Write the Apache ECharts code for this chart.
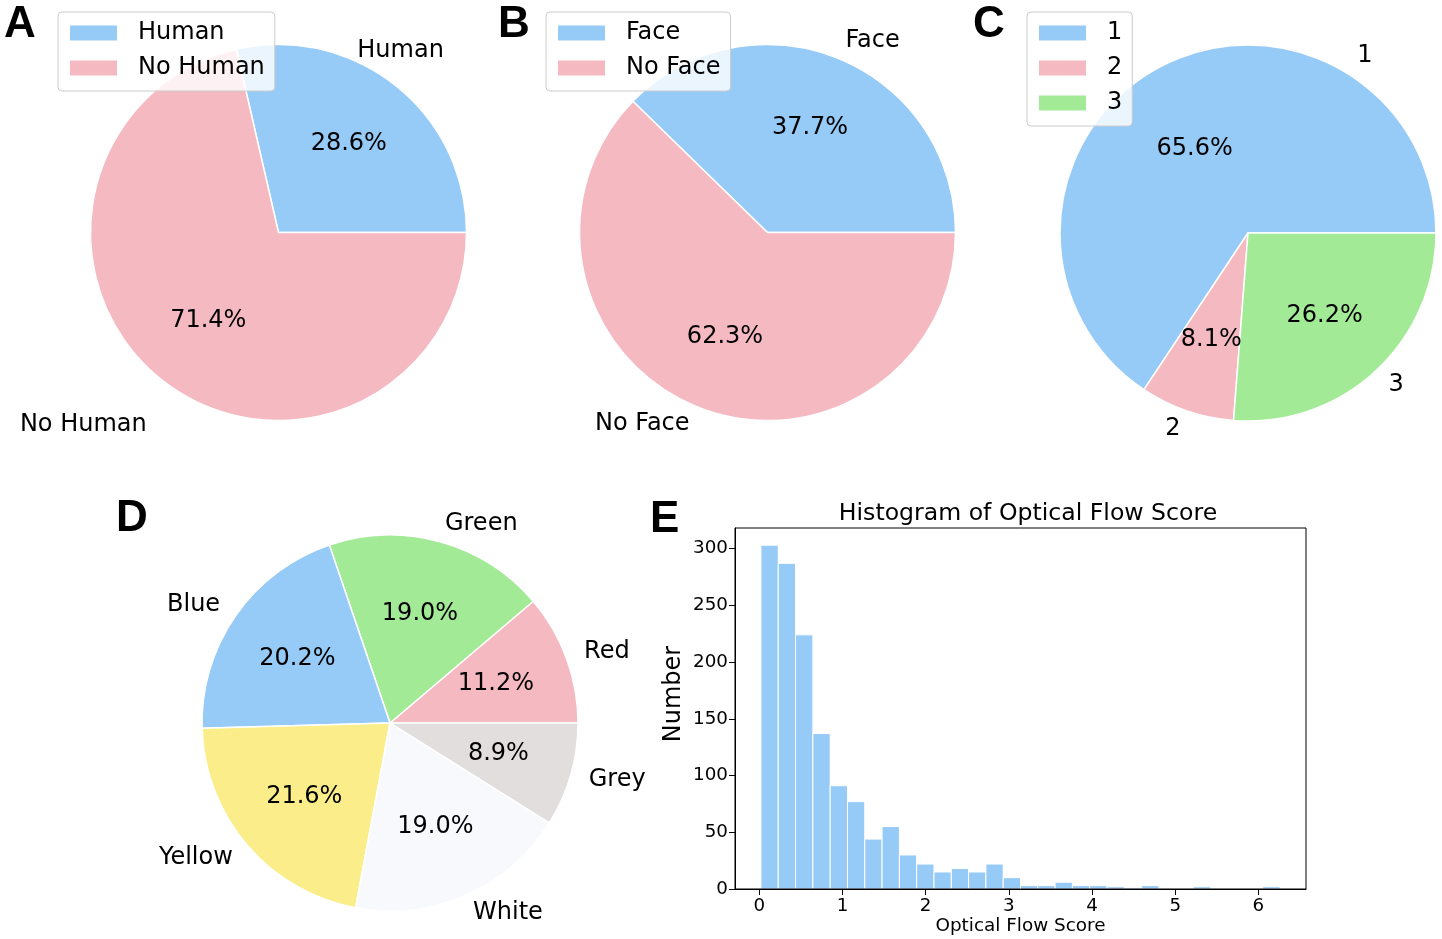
<!DOCTYPE html>
<html>
<head>
<meta charset="utf-8">
<script src="https://cdn.jsdelivr.net/npm/echarts@6/dist/echarts.min.js"></script>
<style>
  html, body { margin: 0; padding: 0; background: #ffffff; }
  #chart { width: 1442px; height: 939px; }
</style>
</head>
<body>
<div id="chart"></div>
<script>
// ---------------- data ----------------
const pieALabels = ['Human', 'No Human'];
const pieAValues = [28.6, 71.4];

const pieBLabels = ['Face', 'No Face'];
const pieBValues = [37.7, 62.3];

const pieCLabels = ['1', '2', '3'];
const pieCValues = [65.6, 8.1, 26.2];

const pieDLabels = ['Red', 'Green', 'Blue', 'Yellow', 'White', 'Grey'];
const pieDValues = [11.2, 19.0, 20.2, 21.6, 19.0, 8.9];

// histogram: 30 equal bins between histMin and histMax
const histMin = 0.02;
const histMax = 6.26;
const histCounts = [303, 287, 224, 137, 91, 77, 44, 55, 30, 22,
                    15, 18, 15, 22, 10, 3, 3, 6, 3, 3,
                    2, 1, 3, 0, 0, 2, 0, 0, 0, 2];
const histXTicks = [0, 1, 2, 3, 4, 5, 6];
const histYTicks = [0, 50, 100, 150, 200, 250, 300];

const panelLetters = ['A', 'B', 'C', 'D', 'E'];
const histTitle = 'Histogram of Optical Flow Score';
const histXName = 'Optical Flow Score';
const histYName = 'Number';

// ---------------- styles ----------------
const C_BLUE = '#96CAF7';
const C_PINK = '#F5B9C2';
const C_GREEN = '#A3EA96';
const C_YELLOW = '#FBEE8A';
const C_WHITE = '#F8F9FD';
const C_GREY = '#E1DEDD';
const colorsA = [C_BLUE, C_PINK];
const colorsB = [C_BLUE, C_PINK];
const colorsC = [C_BLUE, C_PINK, C_GREEN];
const colorsD = [C_PINK, C_GREEN, C_BLUE, C_YELLOW, C_WHITE, C_GREY];

const FONT = 'DejaVu Sans';
const PIE_FS = 24;
const R = 188;

function pieData(labels, values, colors) {
  return labels.map((n, i) => ({ name: n, value: values[i], itemStyle: { color: colors[i] } }));
}
function pctData(labels, values) {
  return labels.map((n, i) => ({ name: 'pct-' + n, value: values[i] }));
}

function mainPie(center, labels, values, colors, layoutFn) {
  return {
    type: 'pie',
    center: center,
    radius: [0, R],
    startAngle: 0,
    clockwise: false,
    avoidLabelOverlap: false,
    silent: true,
    z: 2,
    data: pieData(labels, values, colors),
    itemStyle: { borderColor: '#ffffff', borderWidth: 1.5 },
    label: {
      show: true,
      position: 'outside',
      distanceToLabelLine: 0,
      fontFamily: FONT,
      fontSize: PIE_FS,
      color: '#000000',
      padding: [3, 0, 0, 0],
      formatter: '{b}'
    },
    labelLine: { show: false, length: R * 0.1, length2: 0 },
    labelLayout: layoutFn,
    emphasis: { disabled: true }
  };
}
function pctPie(center, labels, values, layoutFn) {
  // transparent overlay whose mid radius equals 0.6 * R (label at (r/2)+3)
  return {
    type: 'pie',
    center: center,
    radius: [0, 2 * (0.6 * R - 3)],
    startAngle: 0,
    clockwise: false,
    avoidLabelOverlap: false,
    silent: true,
    z: 3,
    data: pctData(labels, values),
    itemStyle: { color: 'rgba(0,0,0,0)', borderWidth: 0 },
    label: {
      show: true,
      position: 'inside',
      fontFamily: FONT,
      fontSize: PIE_FS,
      color: '#000000',
      padding: [3, 0, 0, 0],
      formatter: (p) => p.value.toFixed(1) + '%'
    },
    labelLine: { show: false },
    labelLayout: layoutFn,
    emphasis: { disabled: true }
  };
}

function legend(left, names) {
  return {
    show: true,
    left: left,
    top: 12,
    orient: 'vertical',
    data: names,
    icon: 'rect',
    itemWidth: 49,
    itemHeight: 17,
    itemGap: 11,
    padding: [9, 10, 11, 10],
    backgroundColor: 'rgba(255,255,255,0.8)',
    borderColor: '#cccccc',
    borderWidth: 1,
    borderRadius: 4,
    selectedMode: false,
    z: 10,
    textStyle: { fontFamily: FONT, fontSize: PIE_FS, color: '#000000', padding: [2, 0, 0, 15] }
  };
}

// histogram bin edges
const nBins = histCounts.length;
const binW = (histMax - histMin) / nBins;
const histData = histCounts.map((c, i) => [histMin + i * binW, histMin + (i + 1) * binW, c]);

const chart = echarts.init(document.getElementById('chart'), null, { renderer: 'canvas' });

const letterStyle = { font: 'bold 44px "Liberation Sans"', fill: '#000000', textAlign: 'left', textVerticalAlign: 'middle' };

const option = {
  backgroundColor: '#ffffff',
  animation: false,
  legend: [
    legend(58, pieALabels),
    legend(546, pieBLabels),
    legend(1027, pieCLabels)
  ],
  graphic: [
    { type: 'text', x: 4, y: 25, style: Object.assign({ text: panelLetters[0] }, letterStyle) },
    { type: 'text', x: 498, y: 25, style: Object.assign({ text: panelLetters[1] }, letterStyle) },
    { type: 'text', x: 973, y: 25, style: Object.assign({ text: panelLetters[2] }, letterStyle) },
    { type: 'text', x: 116, y: 519, style: Object.assign({ text: panelLetters[3] }, letterStyle) },
    { type: 'text', x: 650, y: 520, style: Object.assign({ text: panelLetters[4] }, letterStyle) },
    { type: 'text', x: 1028, y: 514, style: { text: histTitle, font: '23.6px "DejaVu Sans"', fill: '#000000', textAlign: 'center', textVerticalAlign: 'middle' } }
  ],
  grid: {
    left: 735, top: 528, width: 571, height: 361,
    show: true, borderColor: '#000000', borderWidth: 1, backgroundColor: 'rgba(0,0,0,0)', z: 5
  },
  xAxis: {
    type: 'value',
    min: -0.292,
    max: 6.572,
    z: 6,
    name: histXName,
    nameLocation: 'middle',
    nameGap: 28,
    nameTextStyle: { fontFamily: FONT, fontSize: 18.4, color: '#000000' },
    axisLine: { show: true, onZero: false, lineStyle: { color: '#000000', width: 1 } },
    axisTick: { show: true, length: 6, lineStyle: { color: '#000000', width: 1 }, customValues: histXTicks },
    axisLabel: { show: true, margin: 8, fontFamily: FONT, fontSize: 18.3, color: '#000000', customValues: histXTicks, formatter: (v) => String(v) },
    splitLine: { show: false }
  },
  yAxis: {
    type: 'value',
    min: 0,
    max: 318.15,
    z: 6,
    name: histYName,
    nameLocation: 'middle',
    nameGap: 49,
    nameRotate: 90,
    nameTextStyle: { fontFamily: FONT, fontSize: 24, color: '#000000', padding: [0, 0, 0, 29] },
    axisLine: { show: true, onZero: false, lineStyle: { color: '#000000', width: 1 } },
    axisTick: { show: true, length: 6, lineStyle: { color: '#000000', width: 1 }, customValues: histYTicks },
    axisLabel: { show: true, margin: 7, fontFamily: FONT, fontSize: 18.3, color: '#000000', padding: [4, 0, 0, 0], customValues: histYTicks, formatter: (v) => String(v) },
    splitLine: { show: false }
  },
  series: [
    mainPie([278.5, 232.5], pieALabels, pieAValues, colorsA,
      (p) => [{ dx: -50, dy: -20 }, { dx: -3, dy: 30 }][p.dataIndex]),
    mainPie([767.5, 232.5], pieBLabels, pieBValues, colorsB, null),
    mainPie([1248, 233], pieCLabels, pieCValues, colorsC,
      (p) => (p.dataIndex === 0 ? { align: 'left', dx: 207, dy: 5 } : {})),
    mainPie([390, 723], pieDLabels, pieDValues, colorsD, null),
    pctPie([278.5, 232.5], pieALabels, pieAValues, null),
    pctPie([767.5, 232.5], pieBLabels, pieBValues, null),
    pctPie([1248, 233], pieCLabels, pieCValues,
      (p) => (p.dataIndex === 0 ? { dy: 15 } : {})),
    pctPie([390, 723], pieDLabels, pieDValues, null),
    {
      type: 'custom',
      silent: true,
      z: 2,
      data: histData,
      encode: { x: [0, 1], y: 2 },
      renderItem: function (params, api) {
        const c = api.value(2);
        if (!c) return null;
        const p0 = api.coord([api.value(0), c]);
        const p1 = api.coord([api.value(1), 0]);
        return {
          type: 'rect',
          shape: { x: p0[0], y: p0[1], width: p1[0] - p0[0], height: p1[1] - p0[1] },
          style: { fill: C_BLUE, stroke: '#ffffff', lineWidth: 1 }
        };
      }
    }
  ]
};
chart.setOption(option);
</script>
</body>
</html>
